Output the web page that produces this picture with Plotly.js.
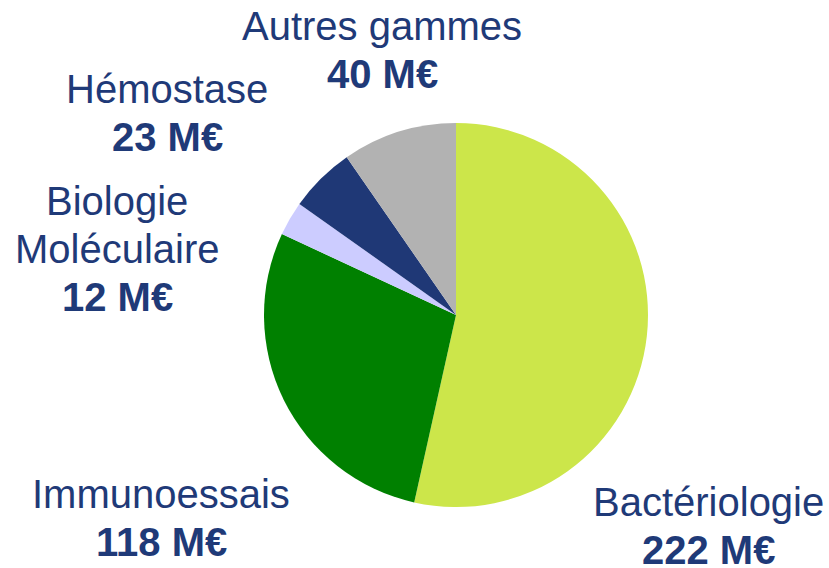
<!DOCTYPE html>
<html>
<head>
<meta charset="utf-8">
<script src="https://cdn.plot.ly/plotly-3.0.1.min.js"></script>
<style>html,body{margin:0;padding:0;background:#fff;}#chart{width:829px;height:568px;}</style>
</head>
<body>
<div id="chart"></div>
<script>
// Data
const categories = ["Bactériologie", "Immunoessais", "Biologie Moléculaire", "Hémostase", "Autres gammes"];
const values = [222, 118, 12, 23, 40];
const unit = "M€";
// label lines (name lines, in display form)
const labelLines = [["Bactériologie"], ["Immunoessais"], ["Biologie", "Moléculaire"], ["Hémostase"], ["Autres gammes"]];

// Styles / layout positions (pixel: center x, first baseline y)
const colors = ["#CCE64A", "#008000", "#CCCCFF", "#1F3876", "#B2B2B2"];
const labelPos = [[708, 516], [161, 508], [117, 215], [167, 103], [382, 40]];
const textColor = "#1F3A78";
const W = 829, H = 568, FS = 40, LH = 48;

const annotations = [];
categories.forEach((c, i) => {
  const lines = labelLines[i].concat([`<b>${values[i]} ${unit}</b>`]);
  lines.forEach((t, j) => {
    const baseline = labelPos[i][1] + j * LH;
    const mid = baseline - 0.34 * FS;
    annotations.push({
      text: t, xref: "paper", yref: "paper",
      x: labelPos[i][0] / W, y: 1 - mid / H,
      xanchor: "center", yanchor: "middle", showarrow: false,
      font: {family: "Liberation Sans, Arial, sans-serif", size: FS, color: textColor}
    });
  });
});

const cx = 456, cy = 315, r = 192;
const trace = {
  type: "pie",
  labels: categories,
  values: values,
  marker: {colors: colors, line: {width: 0}},
  sort: false,
  direction: "clockwise",
  rotation: 0,
  textinfo: "none",
  hoverinfo: "skip",
  showlegend: false,
  domain: {x: [(cx - r) / W, (cx + r) / W], y: [1 - (cy + r) / H, 1 - (cy - r) / H]}
};

Plotly.newPlot("chart", [trace], {
  width: W, height: H,
  margin: {l: 0, r: 0, t: 0, b: 0},
  paper_bgcolor: "#fff",
  showlegend: false,
  annotations: annotations
}, {staticPlot: true});
</script>
</body>
</html>
